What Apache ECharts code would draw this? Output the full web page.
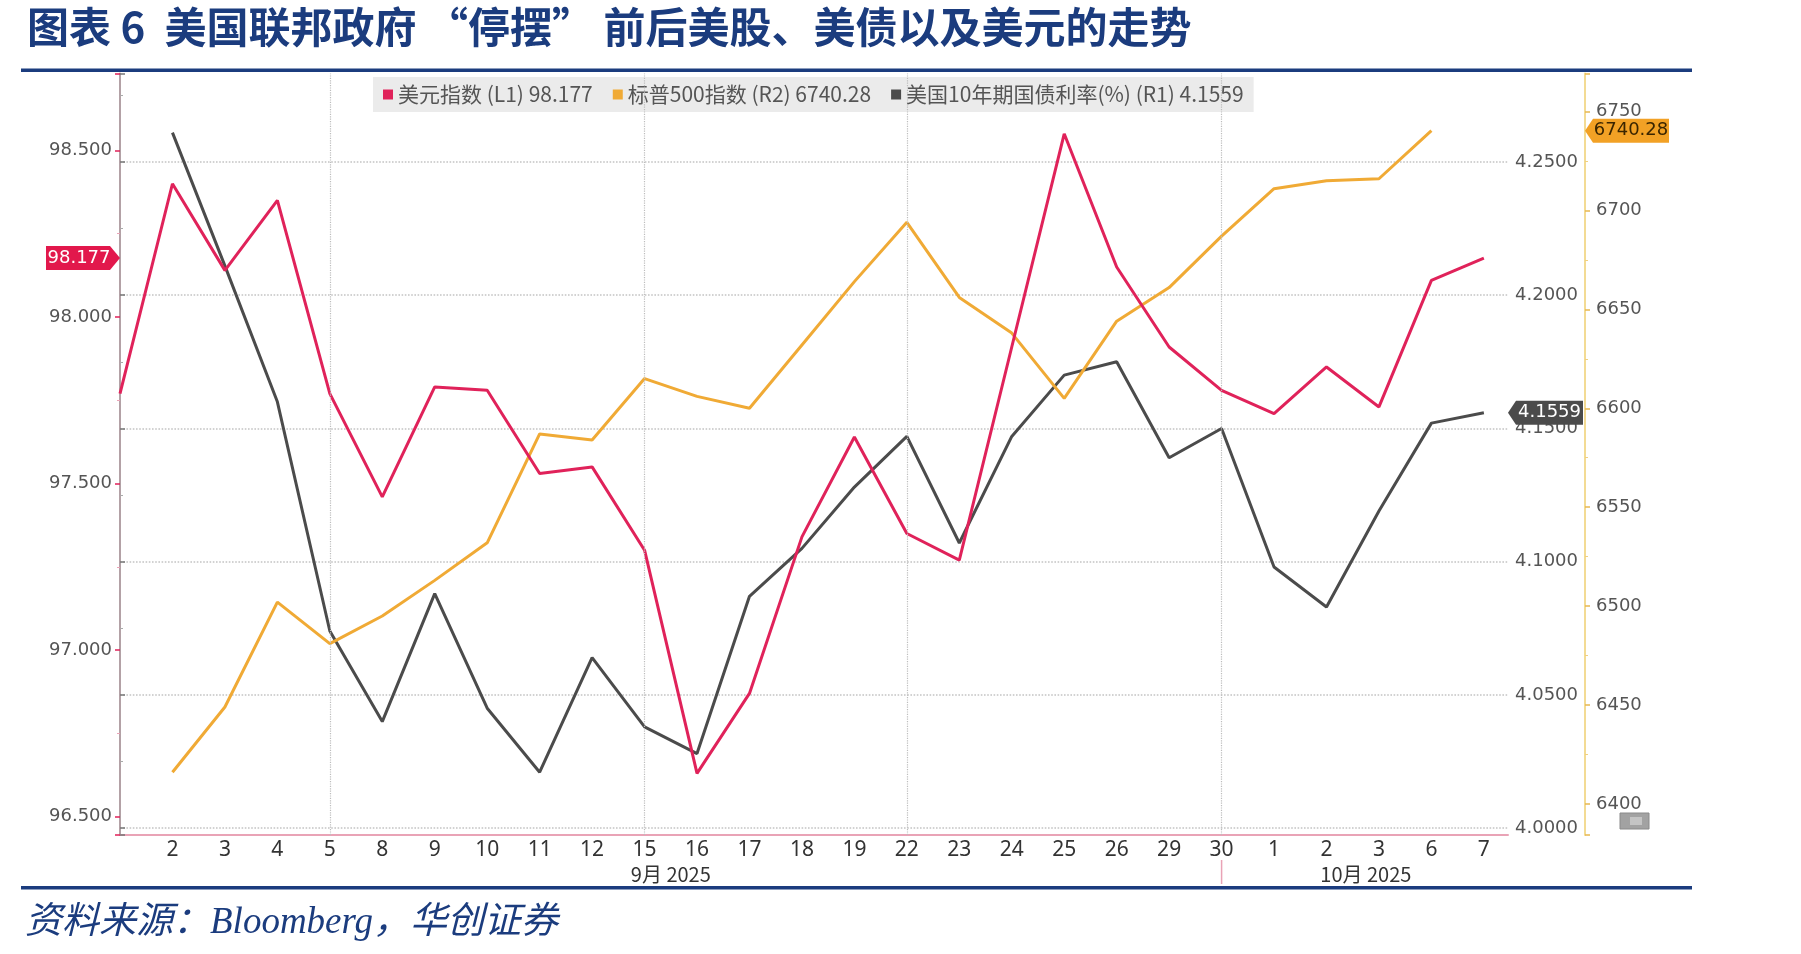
<!DOCTYPE html>
<html><head><meta charset="utf-8">
<script src="https://cdn.jsdelivr.net/npm/echarts@6/dist/echarts.min.js"></script>
<style>html,body{margin:0;padding:0;background:#fff;}#c{width:1801px;height:954px;}</style>
</head><body><div id="c"></div>
<script>
// ---- data ----
const dayLabels = ['', '2','3','4','5','8','9','10','11','12','15','16','17','18','19','22','23','24','25','26','29','30','1','2','3','6','7'];
const monthLabels = ['9月 2025', '10月 2025'];
const monthBoundIdx = [0, 21];            // month spans start at these category indexes
const vGridIdx = [4, 10, 15, 21];          // dotted vertical reference lines (5, 15, 22, 30)
const dxy   = [97.77, 98.40, 98.14, 98.35, 97.77, 97.46, 97.79, 97.78, 97.53, 97.55, 97.30, 96.63, 96.87, 97.34, 97.64, 97.35, 97.27, 97.91, 98.55, 98.15, 97.91, 97.78, 97.71, 97.85, 97.73, 98.11, 98.177];
const spx   = [null, 6416, 6449, 6502, 6481, 6495, 6513, 6532, 6587, 6584, 6615, 6606, 6600, 6632, 6664, 6694, 6656, 6638, 6605, 6644, 6661, 6687, 6711, 6715, 6716, 6740.28, null];
const ust10 = [null, 4.261, 4.211, 4.160, 4.074, 4.040, 4.088, 4.045, 4.021, 4.064, 4.038, 4.028, 4.087, 4.105, 4.128, 4.147, 4.107, 4.147, 4.170, 4.175, 4.139, 4.150, 4.098, 4.083, 4.119, 4.152, 4.1559];
const leftTicksFmt = 3, r1Fmt = 4;

// ---- helpers ----
const lastOf = a => { for (let i = a.length - 1; i >= 0; i--) if (a[i] != null) return a[i]; };
const dxyLast = lastOf(dxy), spxLast = lastOf(spx), ustLast = lastOf(ust10);
const nameDxy = '美元指数 (L1) ' + dxyLast;
const nameSpx = '标普500指数 (R2) ' + spxLast;
const nameUst = '美国10年期国债利率(%) (R1) ' + ustLast;
const xMin = 0, xMax = 26.46;
const monthCenters = monthBoundIdx.map((s, i) => (s + (i + 1 < monthBoundIdx.length ? monthBoundIdx[i + 1] : xMax)) / 2);
const toPairs = a => a.map((v, i) => [i, v]);

const navy = '#1B3C7E';
const cRed = '#E0225A', cOrg = '#F0AA35', cGray = '#4B4B4B';
const numFont = 'DejaVu Sans';

const chart = echarts.init(document.getElementById('c'));
chart.setOption({
  animation: false,
  backgroundColor: '#fff',
  title: {
    text: '图表 6  美国联邦政府 “停摆” 前后美股、美债以及美元的走势',
    left: 22, top: 1,
    textStyle: { fontSize: 42, fontWeight: 'bold', color: navy, fontFamily: 'Noto Sans CJK SC' }
  },
  graphic: [
    { type: 'rect', shape: { x: 21, y: 68.5, width: 1671, height: 3.5 }, style: { fill: navy }, silent: true },
    { type: 'rect', shape: { x: 21, y: 886, width: 1671, height: 3.5 }, style: { fill: navy }, silent: true },
    { type: 'text', x: 25, y: 923, style: { text: '资料来源：Bloomberg，华创证券', font: 'italic 37px "Liberation Serif", "Noto Sans CJK SC"', fill: navy, verticalAlign: 'middle' }, silent: true },
    { type: 'rect', shape: { x: 1620, y: 813, width: 29, height: 16 }, style: { fill: '#A2A2A2', stroke: '#8A8A8A' }, silent: true },
    { type: 'rect', shape: { x: 1630, y: 817, width: 12, height: 8 }, style: { fill: '#C4C4C4' }, silent: true }
  ],
  legend: {
    data: [nameDxy, nameSpx, nameUst],
    left: 373, top: 77,
    icon: 'rect', itemWidth: 10, itemHeight: 10, itemGap: 20,
    padding: [7, 10],
    backgroundColor: 'rgba(232,232,232,0.85)',
    textStyle: { fontSize: 21, color: '#555', fontFamily: 'Noto Sans CJK SC' }
  },
  grid: { left: 120, right: 293, top: 73.5, bottom: 119, containLabel: false },
  xAxis: [
    {
      type: 'value', min: xMin, max: xMax, interval: 1,
      axisLine: { show: true, lineStyle: { color: '#E9A3B6', width: 2 } },
      axisTick: { show: false },
      splitLine: { show: false },
      axisLabel: {
        margin: 5, fontSize: 21, color: '#333', fontFamily: 'Noto Sans',
        formatter: v => Number.isInteger(v) ? (dayLabels[v] || '') : ''
      }
    },
    {
      type: 'value', min: xMin, max: xMax, interval: 0.25, position: 'bottom', offset: 24,
      axisLine: { show: false }, axisTick: { show: false }, splitLine: { show: false },
      axisLabel: {
        margin: 5, fontSize: 20, color: '#333', fontFamily: 'Noto Sans CJK SC',
        formatter: v => { for (let i = 0; i < monthCenters.length; i++) if (Math.abs(v - monthCenters[i]) < 0.126) return monthLabels[i]; return ''; }
      }
    }
  ],
  yAxis: [
    {
      type: 'value', position: 'left', min: 96.445, max: 98.731, splitNumber: 5,
      axisLine: { show: true, lineStyle: { color: '#E9A3B6', width: 2 } },
      axisTick: { show: true, length: 5, lineStyle: { color: cRed, width: 1.5 } },
      minorTick: { show: true, splitNumber: 2, length: 3, lineStyle: { color: '#E9A3B6' } },
      splitLine: { show: false },
      axisLabel: { margin: 8, fontSize: 18, color: '#555', fontFamily: numFont, showMinLabel: false, showMaxLabel: false, formatter: v => v.toFixed(leftTicksFmt) }
    },
    {
      type: 'value', position: 'right', min: 3.99743, max: 4.2832, splitNumber: 5,
      axisLine: { show: true, lineStyle: { color: '#A0A0A0', width: 1.5 } },
      axisTick: { show: true, length: 5, lineStyle: { color: '#777', width: 1.5 } },
      minorTick: { show: true, splitNumber: 2, length: 3, lineStyle: { color: '#AAA' } },
      splitLine: { show: true, showMaxLine: false, showMinLine: false, lineStyle: { color: '#C4C4C4', type: 'dotted', width: 1.6 } },
      axisLabel: { margin: 7, fontSize: 18, color: '#555', fontFamily: numFont, showMinLabel: false, showMaxLabel: false, formatter: v => v.toFixed(r1Fmt) }
    },
    {
      type: 'value', position: 'right', offset: 77, min: 6384.3, max: 6769.2, splitNumber: 8,
      axisLine: { show: true, lineStyle: { color: '#F3DB94', width: 2 } },
      axisTick: { show: true, length: 5, lineStyle: { color: '#E8B850', width: 1.5 } },
      minorTick: { show: true, splitNumber: 2, length: 3, lineStyle: { color: '#F0D080' } },
      splitLine: { show: false },
      axisLabel: { margin: 11, fontSize: 18, color: '#555', fontFamily: numFont, showMinLabel: false, showMaxLabel: false, formatter: v => String(v) }
    }
  ],
  series: [
    {
      name: nameUst, type: 'line', xAxisIndex: 0, yAxisIndex: 1, data: toPairs(ust10),
      symbol: 'none', clip: false, color: cGray,
      lineStyle: { width: 3, color: cGray },
      markLine: {
        silent: true, symbol: 'none', label: { show: false },
        lineStyle: { color: '#BDBDBD', type: 'dotted', width: 1.2 },
        data: vGridIdx.map(i => ({ xAxis: i }))
      },
      markPoint: {
        silent: true,
        data: [{ coord: [xMax, ustLast], value: ustLast }],
        symbol: 'path://M0,12 L8,0 L75,0 L75,24 L8,24 Z', symbolSize: [75, 24], symbolOffset: [37.5, 0],
        itemStyle: { color: '#4B4B4B' },
        label: { show: true, position: 'inside', offset: [4, 0], color: '#fff', fontSize: 18, fontFamily: numFont, formatter: String(ustLast) }
      }
    },
    {
      name: nameSpx, type: 'line', xAxisIndex: 0, yAxisIndex: 2, data: toPairs(spx),
      symbol: 'none', clip: false, color: cOrg,
      lineStyle: { width: 3, color: cOrg },
      markPoint: {
        silent: true,
        data: [{ coord: [xMax, spxLast], value: spxLast }],
        symbol: 'path://M0,12 L8,0 L84,0 L84,24 L8,24 Z', symbolSize: [84, 24], symbolOffset: [77 + 42, 0],
        itemStyle: { color: '#F2A125' },
        label: { show: true, position: 'inside', offset: [4, 0], color: '#3A2500', fontSize: 18, fontFamily: numFont, formatter: String(spxLast) }
      }
    },
    {
      name: nameDxy, type: 'line', xAxisIndex: 0, yAxisIndex: 0, data: toPairs(dxy),
      symbol: 'none', clip: false, color: cRed,
      lineStyle: { width: 3, color: cRed },
      markPoint: {
        silent: true,
        data: [{ coord: [xMin, dxyLast], value: dxyLast }],
        symbol: 'path://M0,0 L64,0 L74,12 L64,24 L0,24 Z', symbolSize: [74, 24], symbolOffset: [-37, 0],
        itemStyle: { color: '#E2184C' },
        label: { show: true, position: 'inside', offset: [-4, 0], color: '#fff', fontSize: 18, fontFamily: numFont, formatter: String(dxyLast) }
      }
    },
    {
      type: 'custom', xAxisIndex: 0, yAxisIndex: 0, silent: true, clip: false,
      data: [[monthBoundIdx[1], dxyLast]],
      renderItem: (params, api) => {
        const x = api.coord([api.value(0), api.value(1)])[0];
        const cs = params.coordSys;
        const y0 = cs.y + cs.height;
        return { type: 'line', shape: { x1: x, y1: y0 + 25, x2: x, y2: y0 + 49 }, style: { stroke: '#E9A3B6', lineWidth: 1.5 } };
      }
    }
  ]
});
</script>
</body></html>
